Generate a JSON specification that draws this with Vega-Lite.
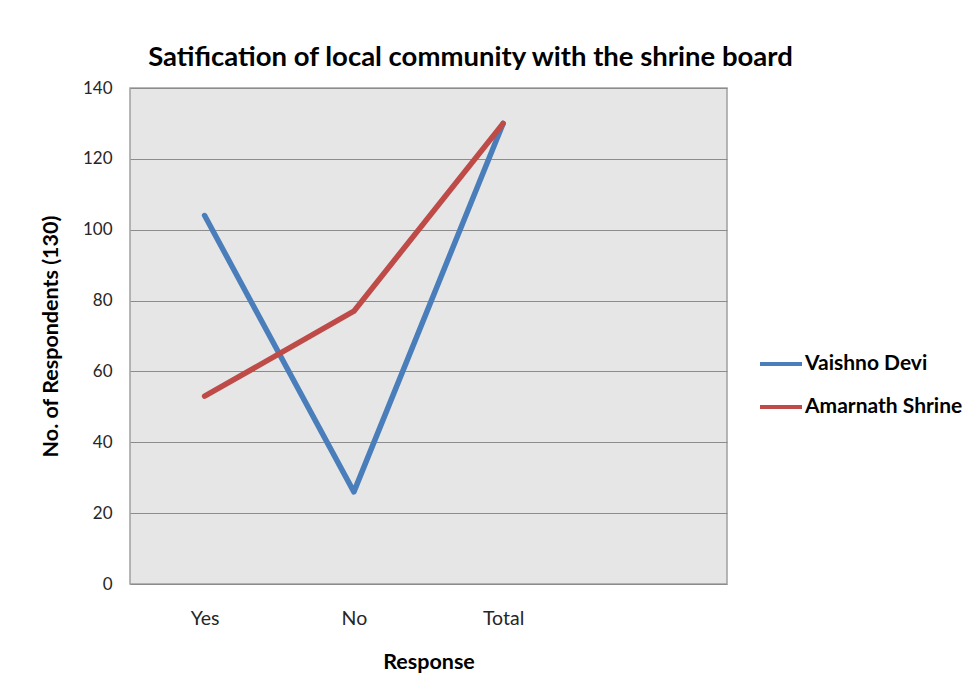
{
  "$schema": "https://vega.github.io/schema/vega-lite/v6.json",
  "autosize": {"type": "none"},
  "width": 597,
  "height": 496,
  "padding": {"left": 130, "top": 88, "right": 252, "bottom": 108},
  "background": "white",
  "title": {
    "text": "Satification of local community with the shrine board",
    "font": "Lato",
    "fontSize": 27.5,
    "fontWeight": "bold",
    "color": "#000000",
    "anchor": "middle",
    "dx": 42,
    "offset": 8
  },
  "data": {
    "values": [
      {"response": "Yes", "site": "Vaishno Devi", "count": 104},
      {"response": "No", "site": "Vaishno Devi", "count": 26},
      {"response": "Total", "site": "Vaishno Devi", "count": 130},
      {"response": "Yes", "site": "Amarnath Shrine", "count": 53},
      {"response": "No", "site": "Amarnath Shrine", "count": 77},
      {"response": "Total", "site": "Amarnath Shrine", "count": 130}
    ]
  },
  "mark": {"type": "line", "strokeWidth": 5.5, "strokeCap": "round", "strokeJoin": "round"},
  "encoding": {
    "x": {
      "field": "response",
      "type": "ordinal",
      "sort": null,
      "scale": {"type": "point", "domain": ["Yes", "No", "Total", " "], "padding": 0.5},
      "axis": {
        "title": "Response",
        "labelAngle": 0,
        "labelFontSize": 19.5,
        "ticks": false,
        "domain": false,
        "grid": false,
        "labelPadding": 25,
        "titlePadding": 24
      }
    },
    "y": {
      "field": "count",
      "type": "quantitative",
      "scale": {"domain": [0, 140], "nice": false},
      "axis": {
        "title": "No. of Respondents (130)",
        "values": [0, 20, 40, 60, 80, 100, 120, 140],
        "labelFontSize": 17,
        "ticks": false,
        "domain": false,
        "grid": true,
        "gridColor": "#8c8c8c",
        "gridWidth": 1,
        "labelPadding": 18,
        "titlePadding": 20
      }
    },
    "color": {
      "field": "site",
      "type": "nominal",
      "sort": ["Vaishno Devi", "Amarnath Shrine"],
      "scale": {"domain": ["Vaishno Devi", "Amarnath Shrine"], "range": ["#4A7EBB", "#BE4B48"]},
      "legend": {
        "title": null,
        "orient": "none",
        "legendX": 628,
        "legendY": 253,
        "symbolType": "stroke",
        "symbolSize": 1764,
        "symbolStrokeWidth": 4,
        "labelFontSize": 21,
        "labelFont": "Lato",
        "labelFontWeight": "bold",
        "labelColor": "#000000",
        "labelOffset": 1,
        "rowPadding": 10
      }
    }
  },
  "config": {
    "view": {"fill": "#e6e6e6", "stroke": "#a0a0a0", "strokeWidth": 1.5},
    "axis": {
      "labelFont": "Lato",
      "labelColor": "#262626",
      "titleFont": "Lato",
      "titleFontSize": 21.5,
      "titleFontWeight": "bold",
      "titleColor": "#000000"
    }
  }
}
